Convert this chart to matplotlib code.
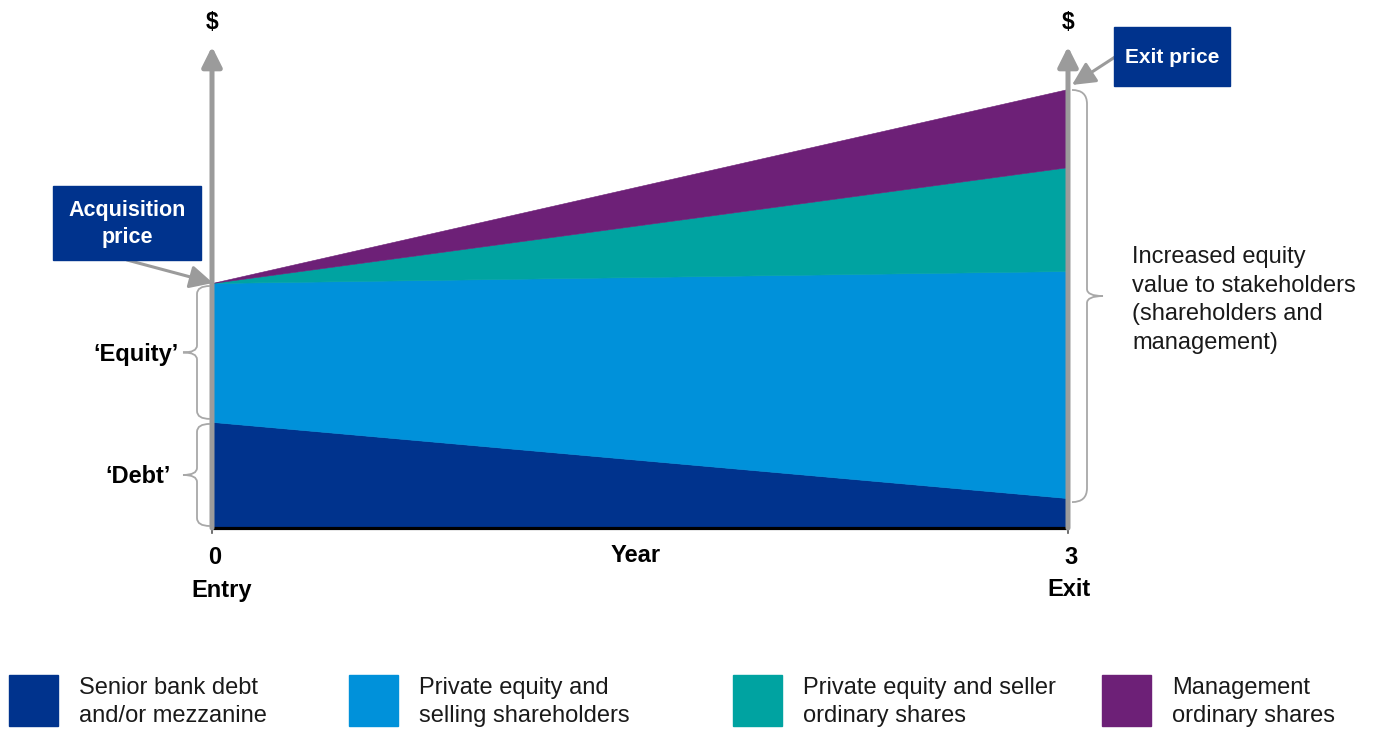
import matplotlib.pyplot as plt
from matplotlib.patches import Rectangle, PathPatch
from matplotlib.path import Path

plt.rcParams['font.family'] = ['Liberation Sans', 'DejaVu Sans']

# data (value units, entry total = 100)
years = [0, 3]
year_numbers = ['0', '3']
year_names = ['Entry', 'Exit']
debt = [43.3, 12.2]
pe_shareholders = [56.7, 92.7]
pe_ordinary = [0.0, 42.4]
mgmt_ordinary = [0.0, 31.9]

series_names = ['Senior bank debt\nand/or mezzanine',
                'Private equity and\nselling shareholders',
                'Private equity and seller\nordinary shares',
                'Management\nordinary shares']
colors = ['#00338D', '#0091DA', '#00A3A1', '#6D2077']
gray = '#9b9b9b'
brace_gray = '#a8a8a8'

W, H = 1373, 729
fig = plt.figure(figsize=(W / 100, H / 100), dpi=100)

# main chart axes: baseline at y=528px, 2.45 px per unit
ax = fig.add_axes([212 / W, 1 - 528 / H, 856 / W, 490 / H])
ax.set_xlim(0, 3)
ax.set_ylim(0, 200)
ax.axis('off')

polys = ax.stackplot(years, debt, pe_shareholders, pe_ordinary, mgmt_ordinary,
                     colors=colors)
for p, c in zip(polys, colors):
    p.set_edgecolor(c)
    p.set_linewidth(0.4)

# overlay axes in pixel coordinates for annotations
ov = fig.add_axes([0, 0, 1, 1], zorder=5)
ov.set_xlim(0, W)
ov.set_ylim(H, 0)
ov.axis('off')


def px(x, y):
    return ov.transData.inverted().transform(ax.transData.transform((x, y)))


total = [d + a + b + c for d, a, b, c in zip(debt, pe_shareholders, pe_ordinary, mgmt_ordinary)]

# baseline
ax.plot([years[0], years[-1]], [0, 0], color='black', lw=2.3,
        solid_capstyle='butt', clip_on=False, zorder=3)
for x in years:
    ax.plot([x, x], [0, -2.2], color='#555555', lw=1.2, clip_on=False, zorder=3)

# vertical axes with arrows
for x in years:
    ax.annotate('', xy=(x, 196.5), xytext=(x, 0), annotation_clip=False,
                arrowprops=dict(arrowstyle='-|>,head_length=0.6,head_width=0.3',
                                mutation_scale=20, lw=3.6, color=gray,
                                shrinkA=0, shrinkB=0), zorder=4)

# labels on axes
for i, x in enumerate(years):
    xp = px(x, 0)[0]
    ov.text(xp, 22, '$', ha='center', va='center', fontsize=16.5, fontweight='bold')
    ov.text(xp + 3, 557, year_numbers[i], ha='center', va='center',
            fontsize=17, fontweight='bold')
    ov.text(xp + (10 if i == 0 else 1), 590, year_names[i], ha='center', va='center',
            fontsize=17, fontweight='bold')
ov.text(636, 556, 'Year', ha='center', va='center', fontsize=17, fontweight='bold')


def brace(x0, y0, y1, d, w1, w2, r):
    xv = x0 + d * w1
    xt = xv + d * w2
    ym = (y0 + y1) / 2
    verts = [(x0, y0), (xv, y0), (xv, y0 + r),
             (xv, ym - 7), (xv, ym), (xt, ym),
             (xv, ym), (xv, ym + 7),
             (xv, y1 - r), (xv, y1), (x0, y1)]
    codes = [Path.MOVETO, Path.CURVE3, Path.CURVE3,
             Path.LINETO, Path.CURVE3, Path.CURVE3,
             Path.CURVE3, Path.CURVE3,
             Path.LINETO, Path.CURVE3, Path.CURVE3]
    ov.add_patch(PathPatch(Path(verts, codes), fill=False, ec=brace_gray, lw=1.3))


# left braces ('Equity' and 'Debt')
e_top = px(0, total[0])[1]
d_top = px(0, debt[0])[1]
base = px(0, 0)[1]
brace(210, e_top + 3, d_top - 3, -1, 13, 14, 8)
brace(210, d_top + 2, base - 2, -1, 13, 14, 8)
ov.text(179, (e_top + d_top) / 2 + 2, '\u2018Equity\u2019', ha='right', va='center',
        fontsize=17, fontweight='bold')
ov.text(171, (d_top + base) / 2 + 2, '\u2018Debt\u2019', ha='right', va='center',
        fontsize=17, fontweight='bold')

# right brace
x_top = px(3, total[1])[1]
x_debt = px(3, debt[1])[1]
brace(1072, x_top + 1, x_debt + 4, 1, 15, 16, 14)
ov.text(1132, 300, 'Increased equity\nvalue to stakeholders\n(shareholders and\nmanagement)',
        ha='left', va='center', fontsize=17, linespacing=1.4, color='#1a1a1a')

# callout boxes
box_col = '#00338D'
ov.add_patch(Rectangle((53, 186), 148, 74, color=box_col, zorder=6))
ov.text(127, 224, 'Acquisition\nprice', ha='center', va='center', color='white',
        fontsize=15.5, fontweight='bold', linespacing=1.35, zorder=7)
tip = px(0, total[0])
ov.annotate('', xy=(tip[0] + 1, tip[1]), xytext=(127, 260),
            arrowprops=dict(arrowstyle='-|>,head_length=0.7,head_width=0.35',
                            mutation_scale=20, lw=2.2, color=gray,
                            shrinkA=0, shrinkB=0))

ov.add_patch(Rectangle((1114, 27), 116, 59, color=box_col, zorder=6))
ov.text(1172, 57, 'Exit price', ha='center', va='center', color='white',
        fontsize=15, fontweight='bold', zorder=7)
tip = px(3, total[1])
ov.annotate('', xy=(tip[0] + 4, tip[1] - 4), xytext=(1115, 57),
            arrowprops=dict(arrowstyle='-|>,head_length=0.7,head_width=0.35',
                            mutation_scale=20, lw=2.2, color=gray,
                            shrinkA=0, shrinkB=0))

# legend
legend_x = [9, 349, 733, 1102]
for lx, name, c in zip(legend_x, series_names, colors):
    ov.add_patch(Rectangle((lx, 675), 49, 51, color=c))
    ov.text(lx + 70, 702, name, ha='left', va='center', fontsize=17,
            linespacing=1.4, color='#1a1a1a')

fig.savefig('out.png', dpi=100)
